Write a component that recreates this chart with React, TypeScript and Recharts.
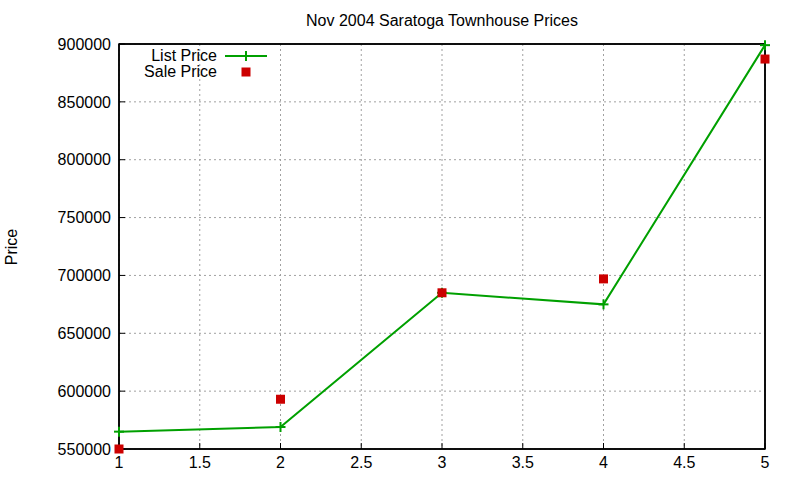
import { CartesianGrid, ComposedChart, Line, ReferenceArea, Scatter, XAxis, YAxis } from "recharts"

const houses = [1, 2, 3, 4, 5]
const listPrices = [565000, 569000, 685000, 675000, 899000]
const salePrices = [550000, 593000, 685000, 697000, 887000]
const xTicks = [1, 1.5, 2, 2.5, 3, 3.5, 4, 4.5, 5]
const yTicks = [550000, 600000, 650000, 700000, 750000, 800000, 850000, 900000]

const FONT = "'Liberation Sans', Arial, sans-serif"
const GREEN = "#00a000"
const RED = "#cc0000"

const chartData = houses.map((h, i) => ({ x: h, list: listPrices[i], sale: salePrices[i] }))

// gnuplot-style "+" marker
function PlusDot(props: any) {
  const { cx, cy } = props
  if (cx == null || cy == null) return null
  return (
    <g>
      <line x1={cx - 5} x2={cx + 5} y1={cy} y2={cy} stroke={GREEN} strokeWidth={2} />
      <line x1={cx} x2={cx} y1={cy - 5} y2={cy + 5} stroke={GREEN} strokeWidth={2} />
    </g>
  )
}

function SquareDot(props: any) {
  const { cx, cy } = props
  if (cx == null || cy == null) return null
  return <rect x={cx - 4.5} y={cy - 4.5} width={9} height={9} fill={RED} />
}

function LegendBox() {
  return (
    <div style={{ fontFamily: FONT, fontSize: 16, color: "#000", lineHeight: "16px" }}>
      <div style={{ display: "flex", alignItems: "center", height: 16 }}>
        <span style={{ width: 117, textAlign: "right" }}>List Price</span>
        <svg width={60} height={16}>
          <line x1={8} x2={50} y1={8} y2={8} stroke={GREEN} strokeWidth={2} />
          <line x1={29} x2={29} y1={3} y2={13} stroke={GREEN} strokeWidth={2} />
        </svg>
      </div>
      <div style={{ display: "flex", alignItems: "center", height: 16 }}>
        <span style={{ width: 117, textAlign: "right" }}>Sale Price</span>
        <svg width={60} height={16}>
          <rect x={24.5} y={3.5} width={9} height={9} fill={RED} />
        </svg>
      </div>
    </div>
  )
}

const axisLine = { stroke: "#000", strokeWidth: 1.5 }
const tickLine = { stroke: "#000", strokeWidth: 1 }

export default function App() {
  return (
    <div style={{ position: "absolute", left: 0, top: 0, width: 800, height: 480, background: "#fff" }}>
      <div
        style={{
          position: "absolute",
          top: 12,
          left: 119,
          width: 646,
          textAlign: "center",
          fontFamily: FONT,
          fontSize: 16,
          color: "#000",
        }}
      >
        Nov 2004 Saratoga Townhouse Prices
      </div>
      <div
        style={{
          position: "absolute",
          left: 12,
          top: 247,
          transform: "translate(-50%, -50%) rotate(-90deg)",
          fontFamily: FONT,
          fontSize: 16,
          color: "#000",
        }}
      >
        Price
      </div>
      <ComposedChart
        width={800}
        height={480}
        data={chartData}
        margin={{ top: 43, right: 34, left: 0, bottom: 0 }}
        style={{ fontFamily: FONT }}
      >
        <CartesianGrid stroke="#a0a0a0" strokeDasharray="2 3" strokeWidth={1} />
        <XAxis
          dataKey="x"
          type="number"
          domain={[1, 5]}
          ticks={xTicks}
          height={31}
          tickSize={-6}
          tickMargin={14}
          tickLine={tickLine}
          axisLine={axisLine}
          tick={{ fill: "#000", fontSize: 16 }}
        />
        <XAxis
          xAxisId="top"
          orientation="top"
          dataKey="x"
          type="number"
          domain={[1, 5]}
          ticks={xTicks}
          height={1}
          tickSize={-6}
          tick={false}
          tickLine={tickLine}
          axisLine={axisLine}
        />
        <YAxis
          type="number"
          domain={[550000, 900000]}
          ticks={yTicks}
          width={119}
          tickSize={-6}
          tickMargin={14}
          tickLine={tickLine}
          axisLine={axisLine}
          tick={{ fill: "#000", fontSize: 16 }}
        />
        <YAxis
          yAxisId="right"
          orientation="right"
          type="number"
          domain={[550000, 900000]}
          ticks={yTicks}
          width={1}
          tickSize={-6}
          tick={false}
          tickLine={tickLine}
          axisLine={axisLine}
        />
        <ReferenceArea x1={1} x2={5} y1={550000} y2={900000} fill="none" stroke="#000" strokeWidth={1.5} ifOverflow="visible" />
        <Line
          dataKey="list"
          name="List Price"
          stroke={GREEN}
          strokeWidth={2}
          dot={<PlusDot />}
          activeDot={false}
          isAnimationActive={false}
        />
        <Scatter dataKey="sale" name="Sale Price" fill={RED} shape={<SquareDot />} isAnimationActive={false} />
      </ComposedChart>
      <div style={{ position: "absolute", left: 100, top: 48 }}>
        <LegendBox />
      </div>
    </div>
  )
}
